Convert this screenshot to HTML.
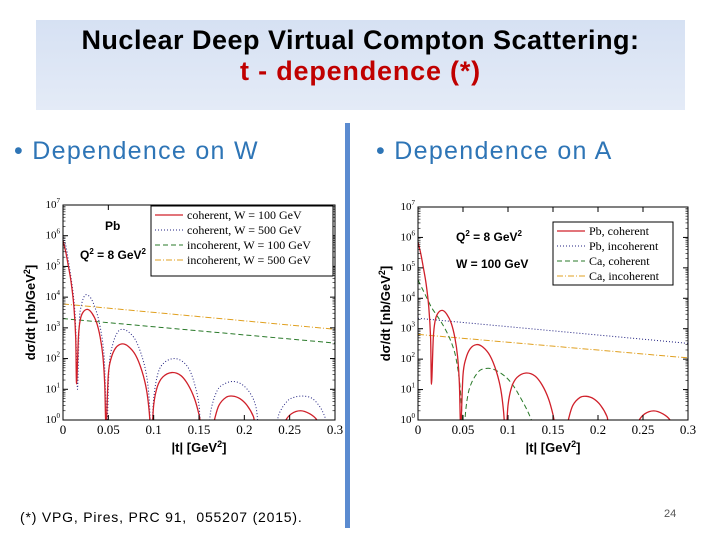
<!DOCTYPE html>
<html><head><meta charset="utf-8"><style>
body{margin:0;width:720px;height:540px;background:#fff;position:relative;overflow:hidden;font-family:"Liberation Sans",sans-serif}
#title{position:absolute;left:36px;top:20px;width:649px;height:90px;background:linear-gradient(#d6e1f3,#e4ebf7);text-align:center}
#t1{position:absolute;left:0;width:100%;top:5px;font:bold 27px "Liberation Sans",sans-serif;letter-spacing:0.5px;color:#000}
#t2{position:absolute;left:0;width:100%;top:36px;font:bold 27px "Liberation Sans",sans-serif;letter-spacing:0.8px;color:#c00000}
.bul{position:absolute;top:137px;font-size:25px;letter-spacing:1.3px;color:#2e75b6}
#div{position:absolute;left:345px;top:123px;width:5px;height:405px;background:#5b8bd0}
#foot{position:absolute;left:20px;top:509px;font-size:14px;letter-spacing:0.8px;color:#000}
#pg{position:absolute;left:664px;top:508px;font-size:11px;color:#555}
svg{position:absolute;left:0;top:0}
</style></head><body>
<div id="title"><div id="t1">Nuclear Deep Virtual Compton Scattering:</div><div id="t2">t - dependence (*)</div></div>
<div class="bul" style="left:14px">• Dependence on W</div>
<div class="bul" style="left:376px">• Dependence on A</div>
<div id="div"></div>
<div id="foot">(*) VPG, Pires, PRC 91,&nbsp; 055207 (2015).</div>
<div id="pg">24</div>
<svg id="s" width="720" height="540"></svg>
<script>
const xTicks=[0,0.05,0.1,0.15,0.2,0.25,0.3];
const xTickLabels=["0","0.05","0.1","0.15","0.2","0.25","0.3"];
const yExp=[0,1,2,3,4,5,6,7];
const tCohA=[0,0.003,0.006,0.009,0.012,0.014,0.015,0.017,0.019,0.022,0.027,0.032,0.037,0.041,0.044,0.046,0.047,0.048,0.05,0.053,0.058,0.065,0.072,0.08,0.087,0.092,0.095,0.097,0.098,0.1,0.104,0.11,0.12,0.13,0.138,0.145,0.15,0.155,0.163,0.167,0.172,0.18,0.187,0.195,0.203,0.21,0.215,0.24,0.245,0.252,0.262,0.272,0.28,0.285,0.3];
const pbCohW100=[7e5,3e5,1e5,3e4,5e3,500,15,500,1800,3200,4000,3000,1500,500,120,15,1,1,30,100,220,300,250,130,40,10,2,0.3,0.3,3,12,25,35,28,14,5,1.5,0.3,0.3,1,3,5.5,6,5,3,1.3,0.4,0.3,0.9,1.6,2,1.6,1,0.4,0.3];
const tCohB=[0,0.003,0.006,0.009,0.012,0.014,0.016,0.018,0.02,0.023,0.026,0.031,0.036,0.04,0.044,0.046,0.048,0.049,0.051,0.055,0.06,0.065,0.072,0.08,0.087,0.092,0.095,0.097,0.098,0.1,0.105,0.112,0.122,0.132,0.14,0.146,0.15,0.153,0.16,0.163,0.17,0.178,0.188,0.198,0.207,0.213,0.218,0.233,0.238,0.247,0.255,0.265,0.275,0.284,0.29,0.294,0.3];
const pbCohW500=[9e5,5e5,1.5e5,4e4,8e3,1000,10,1500,5000,10000,12000,9000,4000,1500,300,50,1,1,60,300,700,900,750,400,120,30,5,0.3,0.3,5,35,75,100,80,40,12,3,0.3,0.3,2,9,15,18,14,7,2.5,0.3,0.3,1.5,4,5.5,6,5,2.5,1,0.3,0.3];
const tInc=[0,0.3];
const incW100=[2000,320];
const incW500=[6000,900];
const pbIncA=[2200,330];
const caIncA=[650,110];
const tCa=[0,0.005,0.01,0.015,0.02,0.025,0.03,0.035,0.04,0.043,0.046,0.048,0.05,0.051,0.053,0.056,0.06,0.065,0.07,0.078,0.085,0.093,0.1,0.107,0.113,0.12,0.126,0.132];
const caCoh=[4e4,2e4,1e4,5000,3000,1800,1000,500,200,80,20,4,0.3,0.3,2,8,18,32,45,50,45,33,22,12,6,2.5,1,0.3];
const legendW=["coherent, W = 100 GeV","coherent, W = 500 GeV","incoherent, W = 100 GeV","incoherent, W = 500 GeV"];
const legendA=["Pb, coherent","Pb, incoherent","Ca, coherent","Ca, incoherent"];
const NS="http://www.w3.org/2000/svg",S=document.getElementById('s');
function mk(tag,a,p){const e=document.createElementNS(NS,tag);for(const k in a)e.setAttribute(k,a[k]);(p||S).appendChild(e);return e;}
const styles=[{stroke:"#d0202a",w:1.3,d:""},{stroke:"#202080",w:1,d:"1,2"},{stroke:"#2a7a2a",w:1,d:"5,3"},{stroke:"#e0a020",w:1,d:"6,2,1,2"}];
function smooth(P){let d='M'+P[0][0]+','+P[0][1];
  for(let i=0;i<P.length-1;i++){const p0=P[Math.max(0,i-1)],p1=P[i],p2=P[i+1],p3=P[Math.min(P.length-1,i+2)];
    const c1=[p1[0]+(p2[0]-p0[0])/6,p1[1]+(p2[1]-p0[1])/6],c2=[p2[0]-(p3[0]-p1[0])/6,p2[1]-(p3[1]-p1[1])/6];
    d+=` C${c1[0]},${c1[1]} ${c2[0]},${c2[1]} ${p2[0]},${p2[1]}`;}return d;}
function chart(id,L,R,T,B,series,legend,lg,ann){
  const g=mk('g',{});
  
  
  const X=t=>L+(R-L)*t/0.3, Y=v=>B-(B-T)*Math.log10(v)/7;
  const cp=mk('clipPath',{id:id+'c'},g);mk('rect',{x:L,y:T,width:R-L,height:B-T},cp);
  series.forEach((s,i)=>{const st=styles[s.st];
    const p=mk('path',{d:smooth(s.t.map((t,j)=>[X(t),Y(s.v[j])])),fill:'none',stroke:st.stroke,'stroke-width':st.w,'stroke-dasharray':st.d,'clip-path':'url(#'+id+'c)'},g);
    
    });
  mk('rect',{x:L,y:T,width:R-L,height:B-T,fill:'none',stroke:'#000','stroke-width':1},g);
  xTicks.forEach((t,i)=>{mk('line',{x1:X(t),x2:X(t),y1:B,y2:B-5,stroke:'#000'},g);mk('line',{x1:X(t),x2:X(t),y1:T,y2:T+5,stroke:'#000'},g);
    const tx=mk('text',{x:X(t),y:B+14,'text-anchor':'middle','font-family':'Liberation Serif','font-size':13},g);tx.textContent=xTickLabels[i];});
  yExp.forEach(e=>{mk('line',{x1:L,x2:L+5,y1:Y(10**e),y2:Y(10**e),stroke:'#000'},g);mk('line',{x1:R,x2:R-5,y1:Y(10**e),y2:Y(10**e),stroke:'#000'},g);
    if(e<7)for(let k=2;k<10;k++){const yy=Y(k*10**e);mk('line',{x1:L,x2:L+2.5,y1:yy,y2:yy,stroke:'#000','stroke-width':0.6},g);mk('line',{x1:R,x2:R-2.5,y1:yy,y2:yy,stroke:'#000','stroke-width':0.6},g);}
    const tx=mk('text',{x:L-3,y:Y(10**e)+3,'text-anchor':'end','font-family':'Liberation Serif','font-size':11},g);tx.innerHTML='10<tspan dy="-5" font-size="7">'+e+'</tspan>';});
  const xl=mk('text',{x:(L+R)/2,y:B+32,'text-anchor':'middle','font-size':13,'font-weight':'bold'},g);xl.innerHTML='|t| [GeV<tspan dy="-5" font-size="9">2</tspan><tspan dy="5">]</tspan>';
  
  const yl=mk('text',{transform:`translate(${L-28},${(T+B)/2}) rotate(-90)`,'text-anchor':'middle','font-size':13,'font-weight':'bold'},g);yl.innerHTML='dσ/dt [nb/GeV<tspan dy="-5" font-size="9">2</tspan><tspan dy="5">]</tspan>';
  
  mk('rect',{x:lg[0],y:lg[1],width:lg[2],height:lg[3],fill:'#fff',stroke:'#000'},g);
  legend.forEach((s,i)=>{const st=styles[i],yy=lg[1]+9+i*lg[4];
    mk('line',{x1:lg[0]+4,x2:lg[0]+32,y1:yy,y2:yy,stroke:st.stroke,'stroke-width':st.w,'stroke-dasharray':st.d},g);
    const tx=mk('text',{x:lg[0]+36,y:yy+4,'font-family':'Liberation Serif','font-size':12},g);tx.textContent=s;
    
    });
  ann.forEach(a=>{const tx=mk('text',{x:a[0],y:a[1],'font-size':12,'font-weight':'bold'},g);tx.innerHTML=a[2];});
}
chart('chart-w',63,335,205,420,[
 {t:tInc,v:incW500,st:3,name:'incoherent-w500-line'},{t:tInc,v:incW100,st:2,name:'incoherent-w100-line'},
 {t:tCohB,v:pbCohW500,st:1,name:'coherent-w500-line'},{t:tCohA,v:pbCohW100,st:0,name:'coherent-w100-line'}],
 legendW,[151,206,182,70,15],[[105,230,'Pb'],[80,259,'Q<tspan dy="-5" font-size="8">2</tspan><tspan dy="5"> = 8 GeV</tspan><tspan dy="-5" font-size="8">2</tspan>']]);
chart('chart-a',418,688,207,420,[
 {t:tInc,v:caIncA,st:3,name:'ca-incoherent-line'},{t:tInc,v:pbIncA,st:1,name:'pb-incoherent-line'},
 {t:tCa,v:caCoh,st:2,name:'ca-coherent-line'},{t:tCohA,v:pbCohW100,st:0,name:'pb-coherent-line'}],
 legendA,[553,222,120,63,15],[[456,241,'Q<tspan dy="-5" font-size="8">2</tspan><tspan dy="5"> = 8 GeV</tspan><tspan dy="-5" font-size="8">2</tspan>'],[456,268,'W = 100 GeV']]);
</script>
</body></html>
